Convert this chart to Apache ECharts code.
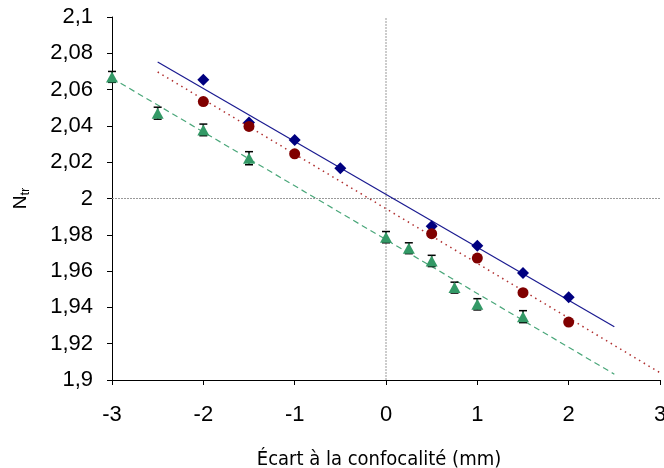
<!DOCTYPE html>
<html>
<head>
<meta charset="utf-8">
<script src="https://cdn.jsdelivr.net/npm/echarts@6/dist/echarts.min.js"></script>
<style>html,body{margin:0;padding:0;background:#fff}#c{width:664px;height:468px}</style>
</head>
<body>
<div id="c"></div>
<script>
// Data
const blueX = [-2, -1.5, -1, -0.5, 0.5, 1, 1.5, 2];
const blueY = [2.0654, 2.0419, 2.0323, 2.0167, 1.9847, 1.9739, 1.9590, 1.9456];
const redX = [-2, -1.5, -1, 0.5, 1, 1.5, 2];
const redY = [2.0534, 2.0397, 2.0246, 1.9806, 1.9672, 1.9481, 1.9319];
const greenX = [-3, -2.5, -2, -1.5, 0, 0.25, 0.5, 0.75, 1, 1.5];
const greenY = [2.0670, 2.0470, 2.0378, 2.0222, 1.9787, 1.9726, 1.9656, 1.9509, 1.9417, 1.9349];
const greenErr = [0.003, 0.0033, 0.0032, 0.0036, 0.0031, 0.003, 0.0031, 0.003, 0.0031, 0.0033];
// Trend lines (end points)
const blueFitX = [-2.5, 2.5];
const blueFitY = [2.0752, 1.9293];
const redFitX = [-2.5, 3];
const redFitY = [2.0697, 1.9040];
const greenFitX = [-3, 2.5];
const greenFitY = [2.0663, 1.9032];
// Axis ticks
const xTicks = [-3, -2, -1, 0, 1, 2, 3];
const yMin = 1.9, yMax = 2.1, yStep = 0.02;
// Reference cross lines
const refX = 0, refY = 2;

const zip = (xs, ys) => xs.map((x, i) => [x, ys[i]]);
const fmt = v => String(parseFloat(Number(v).toFixed(3))).replace('.', ',');

const chart = echarts.init(document.getElementById('c'), null, {renderer: 'canvas'});
const tickFont = {fontFamily: 'Liberation Sans, Arial, sans-serif', fontSize: 22, color: '#000'};

chart.setOption({
  animation: false,
  backgroundColor: '#fff',
  grid: {left: 112, right: 4, top: 17, bottom: 88, containLabel: false, outerBoundsMode: 'none'},
  xAxis: {
    type: 'value', min: xTicks[0], max: xTicks[xTicks.length - 1], interval: 1,
    axisLine: {show: true, onZero: false, lineStyle: {color: '#000', width: 1}},
    axisTick: {show: true, inside: false, length: 5, lineStyle: {color: '#000'}},
    axisLabel: Object.assign({margin: 24, formatter: fmt, hideOverlap: false, showMaxLabel: true, showMinLabel: true}, tickFont),
    splitLine: {show: false},
    name: 'Écart à la confocalité (mm)',
    nameLocation: 'middle', nameGap: 70,
    nameTextStyle: {fontFamily: 'DejaVu Sans Condensed, DejaVu Sans, sans-serif', fontSize: 20, color: '#000', padding: [0, 14, 0, 0]}
  },
  yAxis: {
    type: 'value', min: yMin, max: yMax, interval: yStep,
    axisLine: {show: true, onZero: false, lineStyle: {color: '#000', width: 1}},
    axisTick: {show: true, inside: false, length: 5, lineStyle: {color: '#000'}},
    axisLabel: Object.assign({margin: 19, formatter: fmt}, tickFont),
    splitLine: {show: false},
    name: '{n|N}{s|tr}',
    nameLocation: 'middle', nameGap: 80, nameRotate: 90,
    nameTextStyle: {
      rich: {
        n: {fontFamily: 'Liberation Sans, Arial, sans-serif', fontSize: 19, color: '#000', lineHeight: 22, verticalAlign: 'middle'},
        s: {fontFamily: 'Liberation Sans, Arial, sans-serif', fontSize: 13, color: '#000', verticalAlign: 'bottom', padding: [9, 0, 0, 0]}
      }
    }
  },
  series: [
    {
      type: 'line', data: [[xTicks[0], refY], [xTicks[xTicks.length - 1], refY]],
      symbol: 'none', silent: true, z: 1,
      lineStyle: {color: '#999', width: 1, type: [2, 1]}
    },
    {
      type: 'line', data: [[refX, yMin], [refX, yMax]],
      symbol: 'none', silent: true, z: 1,
      lineStyle: {color: '#999', width: 1, type: [2, 1]}
    },
    {
      type: 'line', data: zip(blueFitX, blueFitY), symbol: 'none', z: 2,
      lineStyle: {color: '#1a1a90', width: 1.2, type: 'solid'}
    },
    {
      type: 'line', data: zip(redFitX, redFitY), symbol: 'none', z: 2,
      lineStyle: {color: '#b03030', width: 1.5, type: [1.5, 4]}
    },
    {
      type: 'line', data: zip(greenFitX, greenFitY), symbol: 'none', z: 2,
      lineStyle: {color: '#4aa77a', width: 1.2, type: [6, 4]}
    },
    {
      type: 'custom', z: 3, clip: false,
      data: greenX.map((x, i) => [x, greenY[i], greenErr[i]]),
      renderItem: function (params, api) {
        const x = api.value(0), y = api.value(1), e = api.value(2);
        const top = api.coord([x, y + e]);
        const bot = api.coord([x, y - e]);
        const hw = 4;
        const st = {stroke: '#000', lineWidth: 1.5};
        return {
          type: 'group',
          children: [
            {type: 'line', shape: {x1: top[0], y1: top[1], x2: bot[0], y2: bot[1]}, style: st},
            {type: 'line', shape: {x1: top[0] - hw, y1: top[1], x2: top[0] + hw, y2: top[1]}, style: st},
            {type: 'line', shape: {x1: bot[0] - hw, y1: bot[1], x2: bot[0] + hw, y2: bot[1]}, style: st}
          ]
        };
      }
    },
    {
      type: 'scatter', data: zip(blueX, blueY), symbol: 'diamond', symbolSize: [12, 12], z: 4, clip: false,
      itemStyle: {color: '#000080', opacity: 1}
    },
    {
      type: 'scatter', data: zip(redX, redY), symbol: 'circle', symbolSize: 11, z: 4, clip: false,
      itemStyle: {color: '#800000', opacity: 1}
    },
    {
      type: 'scatter', data: zip(greenX, greenY), symbol: 'triangle', symbolSize: [12, 11], z: 4, clip: false,
      itemStyle: {color: '#339966', opacity: 1}
    }
  ]
});
</script>
</body>
</html>
